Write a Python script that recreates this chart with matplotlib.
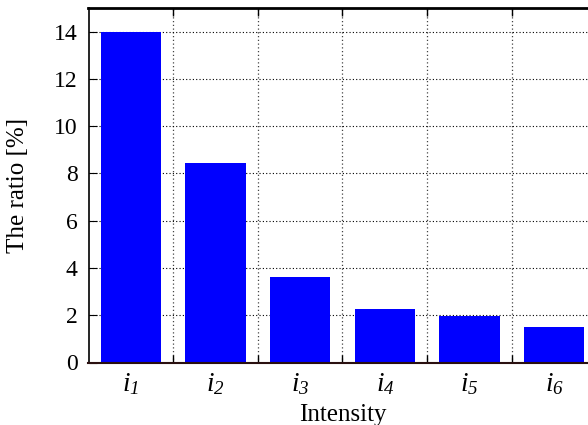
import matplotlib
matplotlib.use("Agg")
import matplotlib.pyplot as plt
import numpy as np

categories = [r"$i_{1}$", r"$i_{2}$", r"$i_{3}$", r"$i_{4}$", r"$i_{5}$", r"$i_{6}$"]
values = [14.0, 8.45, 3.62, 2.26, 1.97, 1.50]
yticks = [0, 2, 4, 6, 8, 10, 12, 14]

plt.rcParams['font.family'] = ['Liberation Serif', 'DejaVu Serif']
plt.rcParams['mathtext.fontset'] = 'custom'
plt.rcParams['mathtext.rm'] = 'Liberation Serif:italic'
plt.rcParams['mathtext.it'] = 'Liberation Serif:italic'
plt.rcParams['mathtext.default'] = 'it'

fig = plt.figure(figsize=(5.88, 4.25), dpi=100)
ax = fig.add_axes([88.5/588, 1-362.5/425, (596.5-88.5)/588, (362.5-8)/425])

x = np.arange(len(values))
ax.bar(x, values, width=0.71, color='#0000ff', zorder=2)

ax.set_xlim(-0.5, len(values) - 0.5)
ax.set_ylim(0, 15)
ax.set_yticks(yticks)
ax.set_xticks(x)
ax.set_xticklabels(categories)
ax.set_xticks(np.arange(0.5, len(values) - 0.5, 1.0), minor=True)

ax.tick_params(axis='x', which='major', length=0, labelsize=19.5, pad=6)
ax.tick_params(axis='x', which='minor', direction='in', length=6, top=True, bottom=True, width=1)
ax.tick_params(axis='y', which='major', direction='in', length=6, labelsize=17, width=0.8, pad=8)

ax.grid(axis='y', which='major', linestyle=(0, (1, 2)), color='black', linewidth=0.8, zorder=1)
ax.grid(axis='x', which='minor', linestyle=(0, (1, 2)), color='#444444', linewidth=0.9, zorder=1)
ax.set_axisbelow(True)

ax.spines['top'].set_linewidth(2.0)
ax.spines['left'].set_linewidth(1.2)
ax.spines['bottom'].set_linewidth(1.5)
ax.spines['bottom'].set_color('#2a1010')
ax.spines['right'].set_visible(False)

ax.set_xlabel('Intensity', fontsize=18, labelpad=5)
ax.set_ylabel('The ratio [%]', fontsize=18, labelpad=18)

fig.savefig('out.png', dpi=100)
